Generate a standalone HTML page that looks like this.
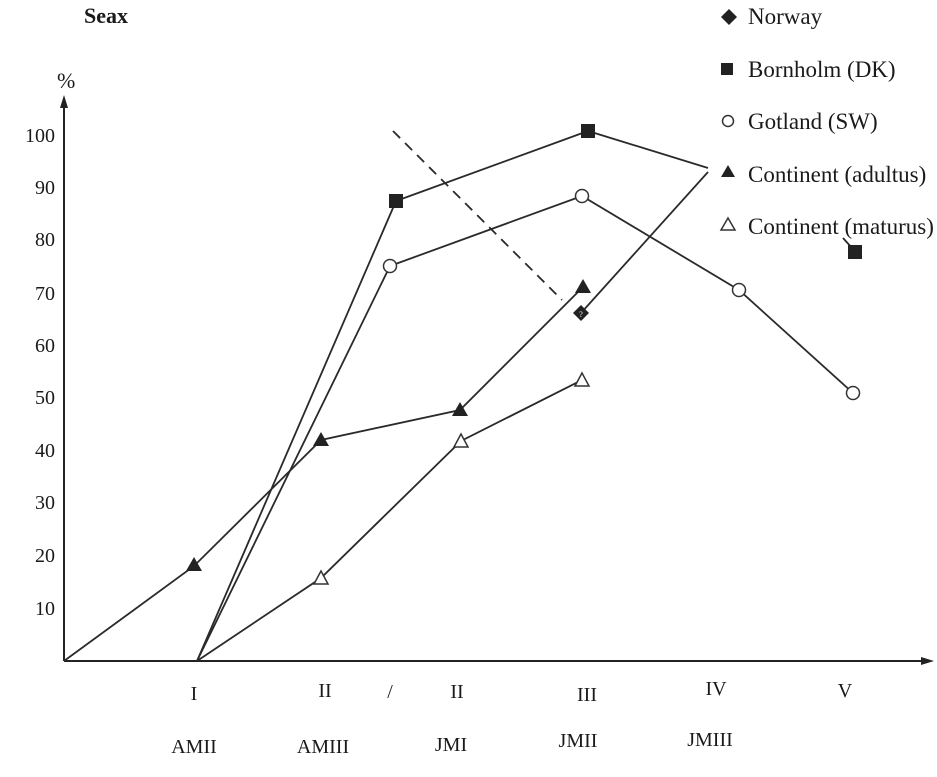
<!DOCTYPE html>
<html><head><meta charset="utf-8"><style>
html,body{margin:0;padding:0;background:#fff;}
svg text{font-family:"Liberation Serif",serif;fill:#1a1a1a;}
</style></head><body>
<svg width="937" height="772" viewBox="0 0 937 772" xmlns="http://www.w3.org/2000/svg">
<g font-size="20">
<text x="84" y="23" font-weight="bold" font-size="22">Seax</text>
<text x="57" y="88" font-size="22">%</text>
<g text-anchor="end">
<text x="55" y="142">100</text><text x="55" y="194">90</text><text x="55" y="246">80</text>
<text x="55" y="300">70</text><text x="55" y="352">60</text><text x="55" y="404">50</text>
<text x="55" y="457">40</text><text x="55" y="509">30</text><text x="55" y="562">20</text>
<text x="55" y="615">10</text>
</g>
<g text-anchor="middle">
<text x="194" y="700">I</text><text x="325" y="697">II</text><text x="390" y="698">/</text>
<text x="457" y="698">II</text><text x="587" y="701">III</text><text x="716" y="695">IV</text>
<text x="845" y="697">V</text>
<text x="194" y="753">AMII</text><text x="323" y="753">AMIII</text><text x="451" y="751">JMI</text>
<text x="578" y="747">JMII</text><text x="710" y="746">JMIII</text>
</g>
</g>
<g font-size="23">
<text x="748" y="24">Norway</text>
<text x="748" y="77">Bornholm (DK)</text>
<text x="748" y="129">Gotland (SW)</text>
<text x="748" y="182">Continent (adultus)</text>
<text x="748" y="234">Continent (maturus)</text>
</g>
<!-- legend symbols -->
<polygon points="729,9 737,17 729,25 721,17" fill="#222"/>
<rect x="721" y="63" width="12" height="12" fill="#222"/>
<circle cx="728" cy="121" r="5.5" fill="#fff" stroke="#333" stroke-width="1.5"/>
<polygon points="728,165 735,177 721,177" fill="#222"/>
<polygon points="728,218 735,230 721,230" fill="#fff" stroke="#333" stroke-width="1.5"/>
<!-- axes -->
<g stroke="#222" stroke-width="2" fill="none">
<line x1="64" y1="661" x2="64" y2="100"/>
<line x1="64" y1="661" x2="928" y2="661"/>
</g>
<polygon points="64,95 60,108 68,108" fill="#222"/>
<polygon points="934,661 921,657 921,665" fill="#222"/>
<!-- series lines -->
<g stroke="#2a2a2a" stroke-width="1.8" fill="none">
<polyline points="197,661 396,201 588,131 708,168"/>
<polyline points="197,661 390,266 582,196 739,290 853,393"/>
<polyline points="64,661 194,566 321,440 460,410 583,287"/>
<polyline points="581,313 708,172"/>
<polyline points="197,661 321,578 461,441 582,380"/>
<line x1="843" y1="238" x2="852" y2="248"/>
<line x1="393" y1="131" x2="562" y2="300" stroke-dasharray="10,7"/>
</g>
<!-- markers -->
<g fill="#222">
<rect x="389" y="194" width="14" height="14"/>
<rect x="581" y="124" width="14" height="14"/>
<rect x="848" y="245" width="14" height="14"/>
<polygon points="194,557 202,571 186,571"/>
<polygon points="321,432 329,446 313,446"/>
<polygon points="460,402 468,416 452,416"/>
<polygon points="583,279 591,293 575,293"/>
<polygon points="581,305 589,313 581,321 573,313"/>
</g>
<text x="581" y="317" font-size="8" text-anchor="middle" style="fill:#fff">?</text>
<g fill="#fff" stroke="#333" stroke-width="1.5">
<circle cx="390" cy="266" r="6.5"/>
<circle cx="582" cy="196" r="6.5"/>
<circle cx="739" cy="290" r="6.5"/>
<circle cx="853" cy="393" r="6.5"/>
<polygon points="321,571 328,584 314,584"/>
<polygon points="461,434 468,447 454,447"/>
<polygon points="582,373 589,386 575,386"/>
</g>
</svg>
</body></html>
